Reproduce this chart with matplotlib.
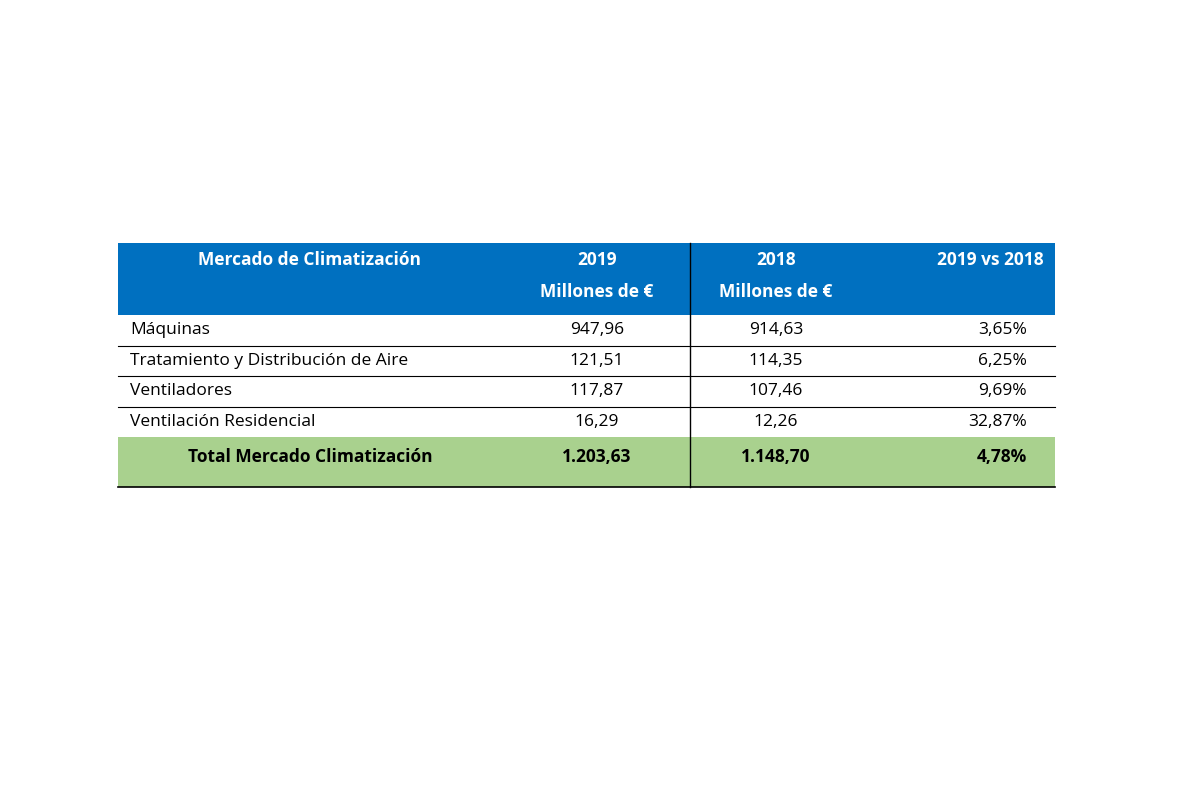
import matplotlib
matplotlib.use('Agg')
import matplotlib.pyplot as plt
from matplotlib.patches import Rectangle

# table content
header_title = "Mercado de Climatización"
header_2019 = ["2019", "Millones de €"]
header_2018 = ["2018", "Millones de €"]
header_pct = "2019 vs 2018"

categories = ["Máquinas", "Tratamiento y Distribución de Aire",
              "Ventiladores", "Ventilación Residencial"]
values_2019 = ["947,96", "121,51", "117,87", "16,29"]
values_2018 = ["914,63", "114,35", "107,46", "12,26"]
pct_change = ["3,65%", "6,25%", "9,69%", "32,87%"]

total_label = "Total Mercado Climatización"
total_2019 = "1.203,63"
total_2018 = "1.148,70"
total_pct = "4,78%"

BLUE = '#0070C0'
GREEN = '#A9D18E'
FONT = 'Open Sans'
FS = 12.5

fig = plt.figure(figsize=(12, 8), dpi=100)
ax = fig.add_axes([0, 0, 1, 1])
ax.set_xlim(0, 1200)
ax.set_ylim(800, 0)
ax.axis('off')

left, right = 118, 1055
col_div = 690
x_2019, x_2018, x_pct = 597, 776, 1027

# header
ax.add_patch(Rectangle((left, 243), right - left, 72, color=BLUE, lw=0))
ax.text(310, 260, header_title, color='white', fontweight='bold', fontsize=FS,
        family=FONT, ha='center', va='center')
for x, lines in [(x_2019, header_2019), (x_2018, header_2018)]:
    ax.text(x, 260, lines[0], color='white', fontweight='bold', fontsize=FS,
            family=FONT, ha='center', va='center')
    ax.text(x, 292, lines[1], color='white', fontweight='bold', fontsize=FS,
            family=FONT, ha='center', va='center')
ax.text(990, 260, header_pct, color='white', fontweight='bold', fontsize=FS,
        family=FONT, ha='center', va='center', clip_on=True)

# body rows
row_top = 315
row_h = 30.5
for i, cat in enumerate(categories):
    yc = row_top + row_h * (i + 0.5)
    ax.text(130, yc, cat, fontsize=FS, family=FONT, ha='left', va='center')
    ax.text(x_2019, yc, values_2019[i], fontsize=FS, family=FONT, ha='center', va='center')
    ax.text(x_2018, yc, values_2018[i], fontsize=FS, family=FONT, ha='center', va='center')
    ax.text(x_pct, yc, pct_change[i], fontsize=FS, family=FONT, ha='right', va='center')
    if i < len(categories) - 1:
        ax.plot([left, right], [row_top + row_h * (i + 1)] * 2, color='black', lw=0.8)

# total row
tot_top = row_top + row_h * len(categories)
ax.add_patch(Rectangle((left, tot_top), right - left, 487 - tot_top, color=GREEN, lw=0))
yc = tot_top + 20
ax.text(310, yc, total_label, fontsize=FS, family=FONT, fontweight='bold', ha='center', va='center')
ax.text(x_2019, yc, total_2019, fontsize=FS, family=FONT, fontweight='bold', ha='center', va='center')
ax.text(x_2018, yc, total_2018, fontsize=FS, family=FONT, fontweight='bold', ha='center', va='center')
ax.text(x_pct, yc, total_pct, fontsize=FS, family=FONT, fontweight='bold', ha='right', va='center')

ax.plot([left, right], [487, 487], color='black', lw=1.2)
ax.plot([col_div, col_div], [243, 487], color='black', lw=1)

fig.savefig('out.png', dpi=100)
